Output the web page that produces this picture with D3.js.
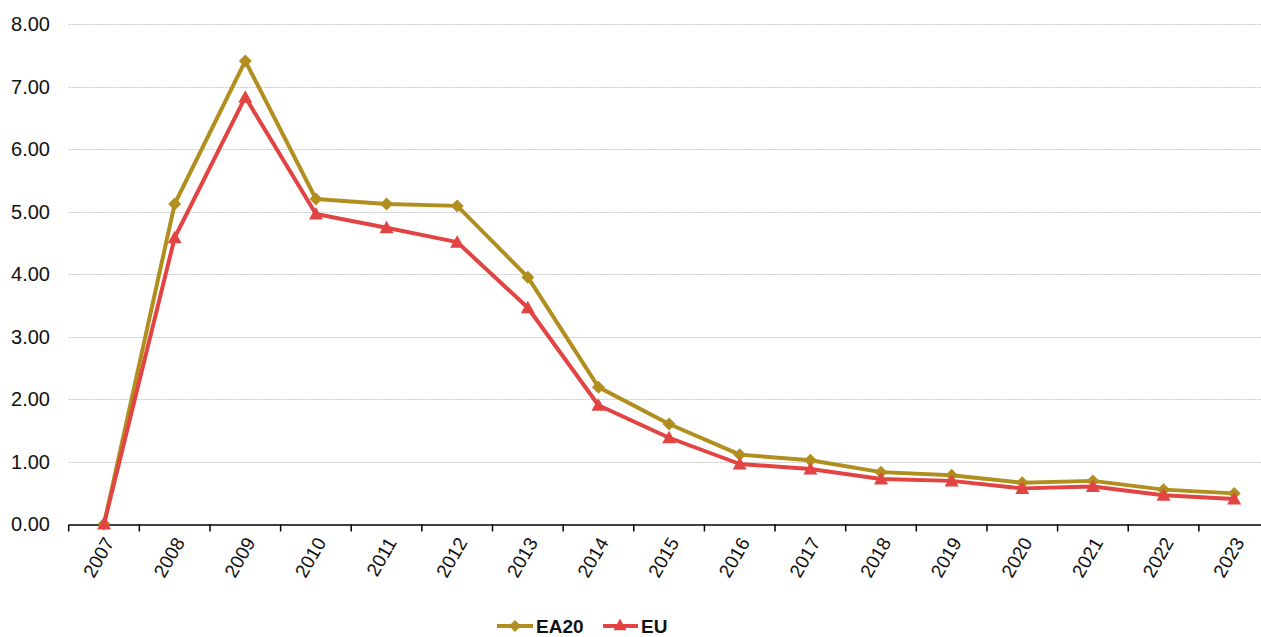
<!DOCTYPE html>
<html>
<head>
<meta charset="utf-8">
<script src="https://cdn.jsdelivr.net/npm/d3@7"></script>
<style>
  html, body { margin: 0; padding: 0; background: #fff; }
  svg { display: block; font-family: "Liberation Sans", Arial, sans-serif; }
</style>
</head>
<body>
<svg id="chart" width="1261" height="637"></svg>
<script>
// Years on the horizontal axis
const years = ["2007","2008","2009","2010","2011","2012","2013","2014","2015","2016","2017","2018","2019","2020","2021","2022","2023"];
// Series values
const ea20 = [0.00, 5.12, 7.41, 5.20, 5.12, 5.09, 3.95, 2.19, 1.60, 1.11, 1.02, 0.83, 0.78, 0.66, 0.69, 0.55, 0.49];
const eu   = [0.00, 4.58, 6.83, 4.96, 4.74, 4.51, 3.46, 1.90, 1.38, 0.96, 0.88, 0.72, 0.69, 0.57, 0.60, 0.46, 0.40];
// Y tick values
const yTicks = [0, 1, 2, 3, 4, 5, 6, 7, 8];

const colEA = "#B18F1F";
const colEU = "#E24343";

const svg = d3.select("#chart");
const plotL = 68.7, plotR = 1269.5, plotT = 24, plotB = 524;

const x = d3.scaleBand().domain(years).range([plotL, plotR]).padding(0);
const y = d3.scaleLinear().domain([0, 8]).range([plotB, plotT]);

// Horizontal gridlines
svg.append("g").selectAll("line").data(yTicks.filter(d => d > 0)).join("line")
  .attr("x1", plotL).attr("x2", plotR)
  .attr("y1", d => Math.round(y(d)) + 0.5).attr("y2", d => Math.round(y(d)) + 0.5)
  .attr("stroke", "#c8c8c8").attr("stroke-width", 1).attr("stroke-dasharray", "2,1");

// Y axis labels
svg.append("g").selectAll("text").data(yTicks).join("text")
  .attr("x", 50).attr("y", d => y(d)).attr("dy", "0.35em")
  .attr("text-anchor", "end").attr("font-size", 20).attr("fill", "#111")
  .text(d => d3.format(".2f")(d));

// X axis line
const xAxis = d3.axisBottom(x).tickSize(0).tickSizeOuter(0).tickFormat("");
const gx = svg.append("g").attr("transform", `translate(0,${plotB + 0.5})`).call(xAxis);
gx.select(".domain").attr("stroke", "#000").attr("stroke-width", 1.5);
gx.selectAll(".tick").remove();
// ticks sit at the band boundaries
const bounds = years.map(d => x(d)).concat([plotR]);
gx.selectAll("line.b").data(bounds).join("line").attr("class", "b")
  .attr("x1", d => d).attr("x2", d => d).attr("y1", 0).attr("y2", 7)
  .attr("stroke", "#000").attr("stroke-width", 1.5);

// Rotated year labels
svg.append("g").selectAll("text").data(years).join("text")
  .attr("transform", d => `translate(${x(d) + x.bandwidth() / 2 + 5},${plotB + 15}) rotate(-60)`)
  .attr("text-anchor", "end").attr("dy", "0.35em")
  .attr("font-size", 19).attr("fill", "#111")
  .text(d => d);

const cx = d => x(d) + x.bandwidth() / 2;
const line = d3.line().x((d, i) => cx(years[i])).y(d => y(d));

function diamond(g, px, py, s, c) {
  g.append("path").attr("d", `M${px},${py - s}L${px + s},${py}L${px},${py + s}L${px - s},${py}Z`).attr("fill", c);
}
function triangle(g, px, py, s, c) {
  g.append("path").attr("d", `M${px},${py - s}L${px + s},${py + s * 0.8}L${px - s},${py + s * 0.8}Z`).attr("fill", c);
}

// EA20 series
const gEA = svg.append("g");
gEA.append("path").datum(ea20).attr("d", line).attr("fill", "none")
  .attr("stroke", colEA).attr("stroke-width", 4).attr("stroke-linejoin", "round");
ea20.forEach((v, i) => diamond(gEA, cx(years[i]), y(v), 6.5, colEA));

// EU series
const gEU = svg.append("g");
gEU.append("path").datum(eu).attr("d", line).attr("fill", "none")
  .attr("stroke", colEU).attr("stroke-width", 4).attr("stroke-linejoin", "round");
eu.forEach((v, i) => triangle(gEU, cx(years[i]), y(v), 7, colEU));

// Legend
const lg = svg.append("g");
const ly = 626;
lg.append("line").attr("x1", 497).attr("x2", 533).attr("y1", ly).attr("y2", ly).attr("stroke", colEA).attr("stroke-width", 4);
diamond(lg, 515, ly, 6, colEA);
lg.append("text").attr("x", 536).attr("y", ly).attr("dy", "0.35em").attr("font-size", 19).attr("font-weight", "bold").attr("fill", "#111").text("EA20");
lg.append("line").attr("x1", 603).attr("x2", 638).attr("y1", ly).attr("y2", ly).attr("stroke", colEU).attr("stroke-width", 4);
triangle(lg, 620, ly - 1, 6.5, colEU);
lg.append("text").attr("x", 641).attr("y", ly).attr("dy", "0.35em").attr("font-size", 19).attr("font-weight", "bold").attr("fill", "#111").text("EU");
</script>
</body>
</html>
